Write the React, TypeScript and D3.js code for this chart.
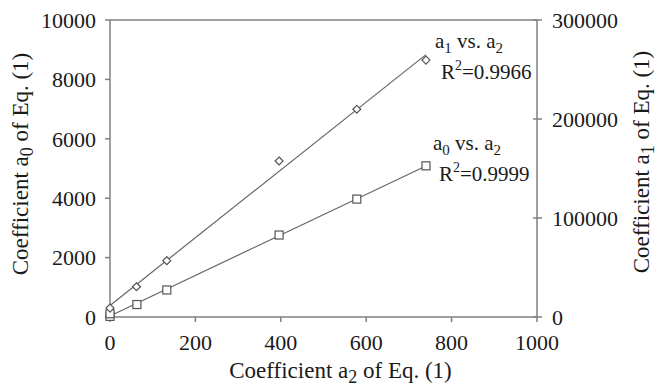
import React, { useEffect, useRef } from 'react';
import * as d3 from 'd3';

// coefficient a2 of Eq. (1) (x values)
const a0X = [0, 0, 63, 133, 396, 578, 740];
const a0Y = [20, 110, 420, 910, 2760, 3970, 5090];
const a1X = [0, 62, 133, 396, 578, 740];
const a1Y = [9000, 30600, 56900, 157600, 209800, 259500];

const xTicks = [0, 200, 400, 600, 800, 1000];
const leftTicks = [0, 2000, 4000, 6000, 8000, 10000];
const rightTicks = [0, 100000, 200000, 300000];

const a0Label = { name: ['a', '0', ' vs. a', '2'], r2: '0.9999' };
const a1Label = { name: ['a', '1', ' vs. a', '2'], r2: '0.9966' };

function fit(xs: number[], ys: number[]) {
    const mx = d3.mean(xs) as number;
    const my = d3.mean(ys) as number;
    let sxy = 0, sxx = 0;
    xs.forEach((x, i) => { sxy += (x - mx) * (ys[i] - my); sxx += (x - mx) * (x - mx); });
    const b = sxy / sxx;
    return { a: my - b * mx, b };
}

export default function App() {
    const ref = useRef<SVGSVGElement>(null);

    useEffect(() => {
        document.body.style.margin = '0';
        const width = 660, height = 387;
        const m = { left: 110, right: 537, top: 20, bottom: 317 };
        const axisColor = '#808080';
        const lineColor = '#666';
        const textColor = '#1a1a1a';

        const svg = d3.select(ref.current).attr('width', width).attr('height', height);
        svg.selectAll('*').remove();

        const x = d3.scaleLinear().domain([0, 1000]).range([m.left, m.right]);
        const yl = d3.scaleLinear().domain([0, 10000]).range([m.bottom, m.top]);
        const yr = d3.scaleLinear().domain([0, 300000]).range([m.bottom, m.top]);

        const g = svg.append('g')
            .style('font-family', "'Liberation Serif', 'Times New Roman', Times, serif")
            .attr('fill', textColor);

        // frame
        const frame = g.append('g').attr('stroke', axisColor).attr('stroke-width', 1.5).attr('fill', 'none');
        frame.append('line').attr('x1', m.left).attr('x2', m.right).attr('y1', m.top).attr('y2', m.top);
        frame.append('line').attr('x1', m.left).attr('x2', m.right).attr('y1', m.bottom).attr('y2', m.bottom);
        frame.append('line').attr('x1', m.left).attr('x2', m.left).attr('y1', m.top).attr('y2', m.bottom);
        frame.append('line').attr('x1', m.right).attr('x2', m.right).attr('y1', m.top).attr('y2', m.bottom);

        // bottom ticks
        xTicks.forEach(t => {
            frame.append('line').attr('x1', x(t)).attr('x2', x(t)).attr('y1', m.bottom).attr('y2', m.bottom + 5);
            g.append('text').attr('x', x(t)).attr('y', m.bottom + 33).attr('text-anchor', 'middle')
                .attr('font-size', 22).text(t);
        });
        // left ticks
        leftTicks.forEach(t => {
            frame.append('line').attr('x1', m.left - 5).attr('x2', m.left).attr('y1', yl(t)).attr('y2', yl(t));
            g.append('text').attr('x', m.left - 14).attr('y', yl(t)).attr('dy', '0.35em').attr('text-anchor', 'end')
                .attr('font-size', 22).text(t);
        });
        // right ticks
        rightTicks.forEach(t => {
            frame.append('line').attr('x1', m.right - 4).attr('x2', m.right + 5).attr('y1', yr(t)).attr('y2', yr(t));
            g.append('text').attr('x', m.right + 15).attr('y', yr(t)).attr('dy', '0.35em').attr('text-anchor', 'start')
                .attr('font-size', 22).text(t);
        });

        // axis titles
        const title = (sel: any, sub: string) => {
            sel.append('tspan').text('Coefficient a');
            sel.append('tspan').attr('font-size', 18).attr('dy', 5).text(sub);
            sel.append('tspan').attr('dy', -5).text(' of Eq. (1)');
        };
        title(g.append('text').attr('x', (m.left + m.right) / 2 + 17).attr('y', 378).attr('text-anchor', 'middle')
            .attr('font-size', 23), '2');
        title(g.append('text').attr('transform', 'translate(28,164) rotate(-90)').attr('text-anchor', 'middle')
            .attr('font-size', 23), '0');
        title(g.append('text').attr('transform', 'translate(649,162) rotate(-90)').attr('text-anchor', 'middle')
            .attr('font-size', 23), '1');

        // trend lines
        const f0 = fit(a0X, a0Y);
        const f1 = fit(a1X, a1Y);
        const x0max = d3.max(a0X) as number;
        const x1max = d3.max(a1X) as number;
        const lines = g.append('g').attr('stroke', lineColor).attr('stroke-width', 1.2).attr('fill', 'none');
        lines.append('line').attr('x1', x(0)).attr('y1', yl(f0.a)).attr('x2', x(x0max)).attr('y2', yl(f0.a + f0.b * x0max));
        lines.append('line').attr('x1', x(0)).attr('y1', yr(f1.a)).attr('x2', x(x1max)).attr('y2', yr(f1.a + f1.b * x1max));

        // markers
        const marks = g.append('g').attr('stroke', '#555').attr('stroke-width', 1.2).attr('fill', 'white');
        a0X.forEach((d, i) => {
            marks.append('rect').attr('x', x(d) - 4).attr('y', yl(a0Y[i]) - 4).attr('width', 8).attr('height', 8);
        });
        const diamond = d3.symbol().type(d3.symbolDiamond2).size(40);
        a1X.forEach((d, i) => {
            marks.append('path').attr('d', diamond()).attr('transform', `translate(${x(d)},${yr(a1Y[i])})`);
        });

        // annotations
        const annotate = (px: number, py: number, lab: { name: string[]; r2: string }) => {
            const t1 = g.append('text').attr('x', px + 9).attr('y', py - 12).attr('font-size', 21);
            t1.append('tspan').text(lab.name[0]);
            t1.append('tspan').attr('font-size', 15).attr('dy', 5).text(lab.name[1]);
            t1.append('tspan').attr('dy', -5).text(lab.name[2]);
            t1.append('tspan').attr('font-size', 15).attr('dy', 5).text(lab.name[3]);
            const t2 = g.append('text').attr('x', px + 15).attr('y', py + 19).attr('font-size', 21);
            t2.append('tspan').text('R');
            t2.append('tspan').attr('font-size', 14).attr('dy', -9).text('2');
            t2.append('tspan').attr('dy', 9).text('=' + lab.r2);
        };
        annotate(x(a1X[a1X.length - 1]), yr(a1Y[a1Y.length - 1]), a1Label);
        annotate(x(a0X[a0X.length - 1]) - 2, yl(a0Y[a0Y.length - 1]) - 4, a0Label);
    }, []);

    return <svg ref={ref}></svg>;
}
